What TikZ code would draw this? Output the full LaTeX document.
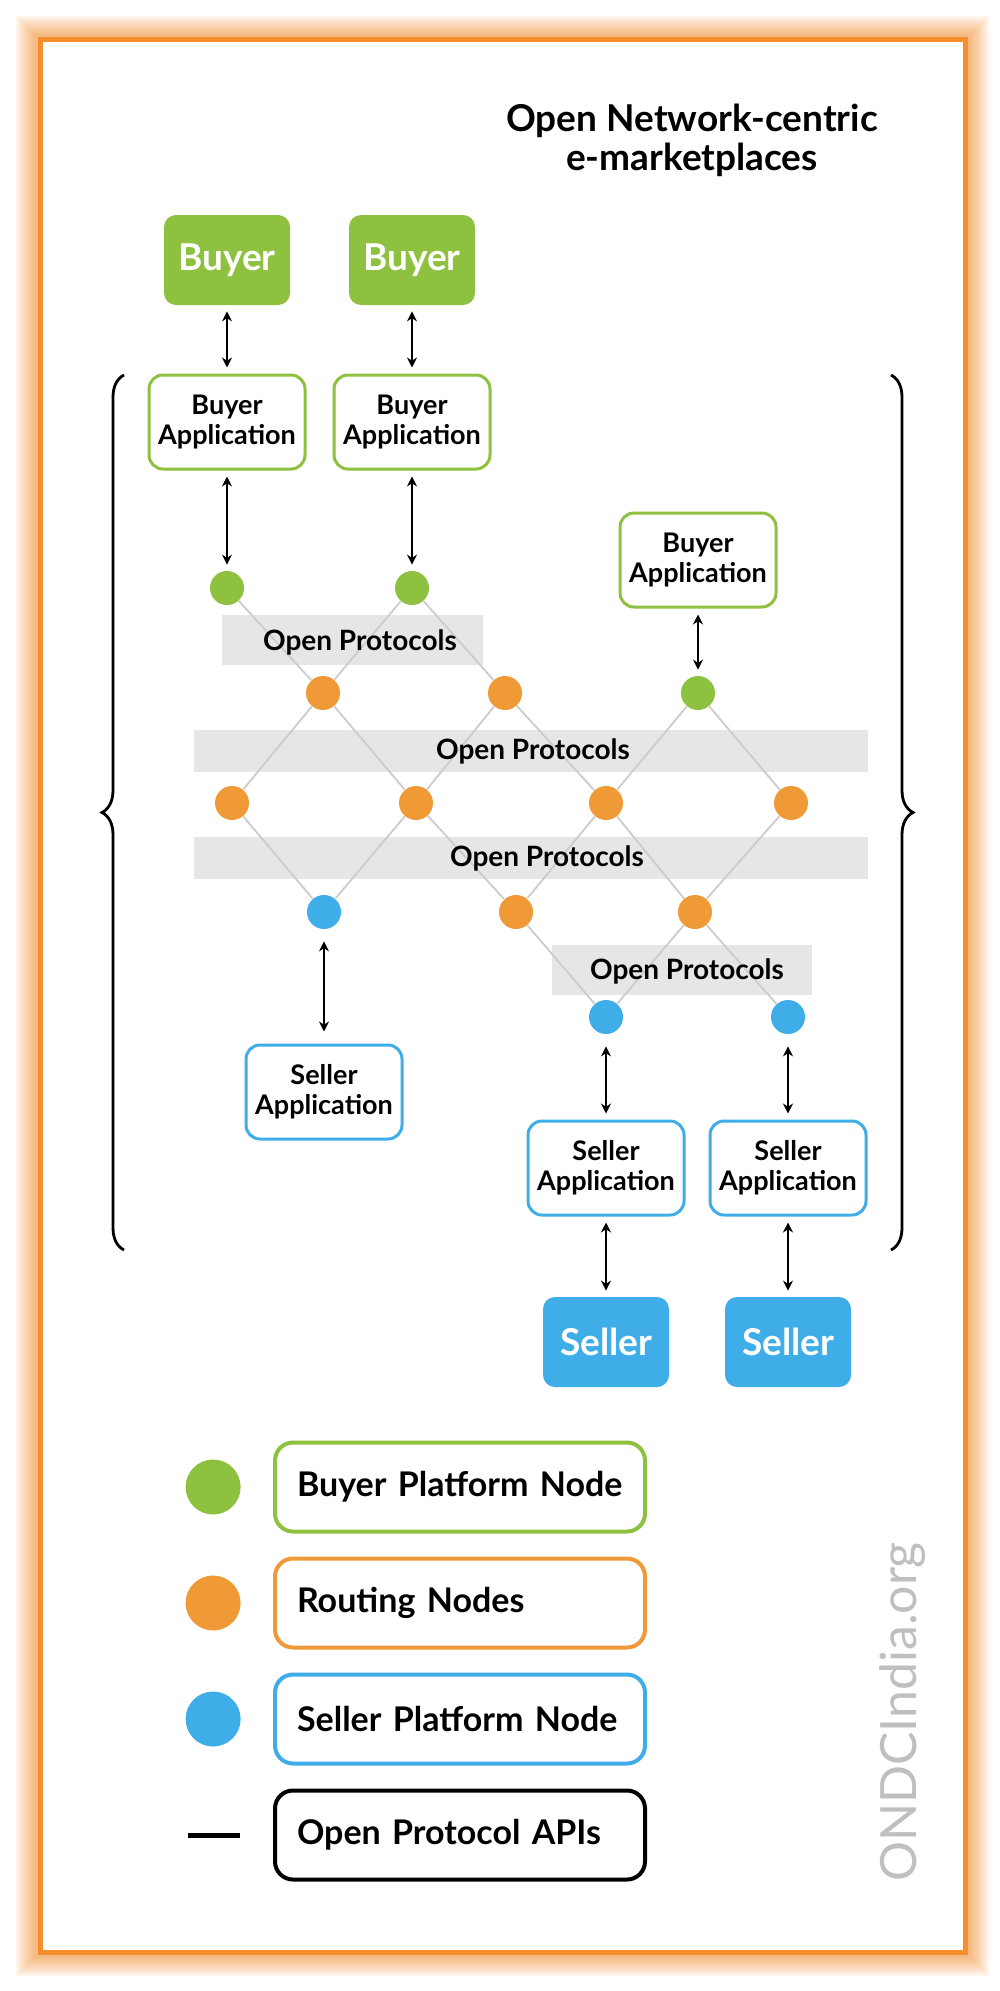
\documentclass[tikz,border=0pt]{standalone}
\usepackage{fontspec}
\setmainfont{Lato}
\usepackage{tikz}
\usetikzlibrary{positioning, arrows.meta, backgrounds, decorations.pathreplacing}
\definecolor{ondcgreen}{HTML}{8DC13F}
\definecolor{ondcorange}{HTML}{F09A37}
\definecolor{ondcblue}{HTML}{3FAEE8}
\definecolor{frameorange}{HTML}{F58F2C}
\definecolor{bandgray}{HTML}{E6E6E6}
\definecolor{linkgray}{HTML}{CCCCCC}

\begin{document}
\begin{tikzpicture}[
    x=0.5pt, y=-0.5pt,
    party/.style={rectangle, rounded corners=6pt, minimum width=63pt, minimum height=45pt,
                  text=white, font=\fontsize{18.5}{20}\selectfont\bfseries},
    buyer/.style={party, fill=ondcgreen},
    seller/.style={party, fill=ondcblue},
    app/.style={rectangle, rounded corners=7pt, line width=1.5pt, fill=white,
                minimum width=78pt, minimum height=47pt, align=center,
                font=\fontsize{13.5}{15}\selectfont\bfseries},
    buyerapp/.style={app, draw=ondcgreen},
    sellerapp/.style={app, draw=ondcblue},
    pnode/.style={circle, minimum size=17pt, inner sep=0pt},
    bpn/.style={pnode, fill=ondcgreen},
    rtn/.style={pnode, fill=ondcorange},
    spn/.style={pnode, fill=ondcblue},
    proto/.style={font=\fontsize{14}{16}\selectfont\bfseries},
    link/.style={linkgray, line width=0.9pt},
    arrow/.style={{Stealth[length=5pt, width=5pt]}-{Stealth[length=5pt, width=5pt]},
                  line width=0.8pt, shorten <=3pt, shorten >=3pt},
    legend/.style={rectangle, rounded corners=9pt, line width=2pt, minimum height=44.5pt,
                   text width=163pt, inner xsep=11pt, align=left,
                   font=\fontsize{17}{20}\selectfont\bfseries},
    brace/.style={decorate, decoration={brace, amplitude=11pt}, line width=1.4pt}
]
    \useasboundingbox (0,0) rectangle (1000,1991);

    % Frame and bands
    \begin{pgfonlayer}{background}
    \fill[white] (0,0) rectangle (1000,1991);
    \foreach \w in {2,4,...,24}
        \draw[frameorange, opacity=0.08, line width=\w pt] (40,40) rectangle (965,1952);
    \fill[white] (40,40) rectangle (965,1952);
    \draw[frameorange, line width=2.5pt] (40,40) rectangle (965,1952);
    \fill[bandgray] (222,615) rectangle (483,665);
    \fill[bandgray] (194,730) rectangle (868,772);
    \fill[bandgray] (194,837) rectangle (868,879);
    \fill[bandgray] (552,945) rectangle (812,995);
    \end{pgfonlayer}

    % Title
    \node[align=center, font=\fontsize{18.5}{19.5}\selectfont\bfseries] (title) at (692,140)
        {Open Network-centric\\e-marketplaces};

    % Buyers
    \node[buyer] (buyer1) at (227,260) {Buyer};
    \node[buyer] (buyer2) at (412,260) {Buyer};
    \node[buyerapp] (bapp1) at (227,422) {Buyer\\Application};
    \node[buyerapp] (bapp2) at (412,422) {Buyer\\Application};
    \node[buyerapp] (bapp3) at (698,560) {Buyer\\Application};

    % Network nodes
    \node[bpn] (bpn1) at (227,588) {};
    \node[bpn] (bpn2) at (412,588) {};
    \node[rtn] (rt1) at (323,693) {};
    \node[rtn] (rt2) at (505,693) {};
    \node[bpn] (bpn3) at (698,693) {};
    \node[rtn] (rt3) at (232,803) {};
    \node[rtn] (rt4) at (416,803) {};
    \node[rtn] (rt5) at (606,803) {};
    \node[rtn] (rt6) at (791,803) {};
    \node[spn] (spn1) at (324,912) {};
    \node[rtn] (rt7) at (516,912) {};
    \node[rtn] (rt8) at (695,912) {};
    \node[spn] (spn2) at (606,1017) {};
    \node[spn] (spn3) at (788,1017) {};

    % Sellers
    \node[sellerapp] (sapp1) at (324,1092) {Seller\\Application};
    \node[sellerapp] (sapp2) at (606,1168) {Seller\\Application};
    \node[sellerapp] (sapp3) at (788,1168) {Seller\\Application};
    \node[seller] (seller1) at (606,1342) {Seller};
    \node[seller] (seller2) at (788,1342) {Seller};

    % Protocol labels
    \node[proto] (op1) at (360,642) {Open Protocols};
    \node[proto] (op2) at (533,751) {Open Protocols};
    \node[proto] (op3) at (547,858) {Open Protocols};
    \node[proto] (op4) at (687,971) {Open Protocols};

    % Links
    \begin{pgfonlayer}{background}
    \draw[link] (bpn1) -- (rt1) -- (bpn2) -- (rt2);
    \draw[link] (rt3) -- (rt1) -- (rt4) -- (rt2) -- (rt5) -- (bpn3) -- (rt6);
    \draw[link] (rt3) -- (spn1) -- (rt4) -- (rt7) -- (rt5) -- (rt8) -- (rt6);
    \draw[link] (rt7) -- (spn2) -- (rt8) -- (spn3);
    \end{pgfonlayer}

    % Arrows
    \draw[arrow] (buyer1) -- (bapp1);
    \draw[arrow] (buyer2) -- (bapp2);
    \draw[arrow] (bapp1) -- (bpn1);
    \draw[arrow] (bapp2) -- (bpn2);
    \draw[arrow] (bapp3) -- (bpn3);
    \draw[arrow, shorten <=6pt, shorten >=6pt] (spn1) -- (sapp1);
    \draw[arrow, shorten <=6pt] (spn2) -- (sapp2);
    \draw[arrow, shorten <=6pt] (spn3) -- (sapp3);
    \draw[arrow] (sapp2) -- (seller1);
    \draw[arrow] (sapp3) -- (seller2);

    % Braces
    \draw[brace] (124,1250) -- (124,375);
    \draw[brace] (891,375) -- (891,1250);

    % Legend
    \node[legend, draw=ondcgreen] (lbuyer) at (460,1487) {Buyer Platform Node};
    \node[legend, draw=ondcorange, below=11.5pt of lbuyer] (lrouting) {Routing Nodes};
    \node[legend, draw=ondcblue, below=11.5pt of lrouting] (lseller) {Seller Platform Node};
    \node[legend, draw=black, below=11.5pt of lseller] (lapi) {Open Protocol APIs};
    \node[bpn, minimum size=27.5pt, left=16pt of lbuyer] (dbuyer) {};
    \node[rtn, minimum size=27.5pt, left=16pt of lrouting] (drouting) {};
    \node[spn, minimum size=27.5pt, left=16pt of lseller] (dseller) {};
    \node[fill=black, minimum width=26pt, minimum height=2.5pt, inner sep=0pt,
          left=16.5pt of lapi] (dapi) {};

    % Watermark
    \node[rotate=90, text=black!25, font=\fontsize{25}{25}\selectfont] (site) at (903,1712)
        {ONDCIndia.org};
\end{tikzpicture}
\end{document}
